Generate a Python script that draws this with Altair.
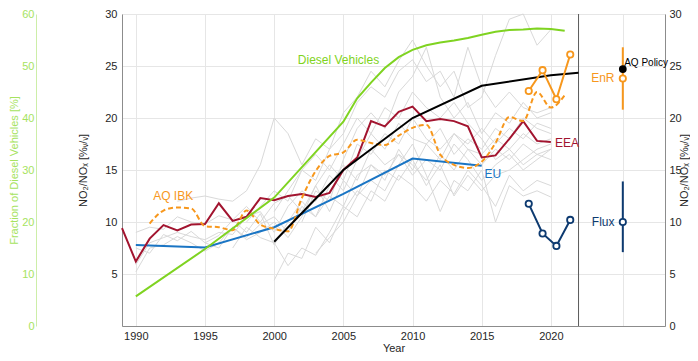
import altair as alt
import pandas as pd

# ---------------- data ----------------
eea_years = list(range(1989, 2021))
eea_vals = [9.4, 6.2, 8.4, 9.7, 9.2, 9.75, 9.8, 11.8, 10.1, 10.5, 12.3, 12.1, 12.5, 12.7,
            12.4, 12.8, 15.0, 16.2, 19.7, 19.2, 20.6, 21.1, 19.7, 19.9, 19.7, 19.2, 16.2,
            16.4, 18.0, 19.7, 17.8, 17.7]

ibk_years = list(range(1991, 2022))
ibk_vals = [9.85, 11.1, 11.4, 11.3, 9.6, 9.5, 9.2, 11.1, 9.75, 9.35, 9.1, 12.3, 14.9,
            16.35, 16.7, 17.9, 17.6, 17.4, 18.3, 19.05, 19.35, 16.5, 15.5, 15.2, 15.8,
            17.6, 20.1, 19.7, 22.5, 21.0, 22.2]

eu_years = [1990, 1995, 2000, 2005, 2010, 2015]
eu_vals = [7.8, 7.55, 9.5, 12.7, 16.1, 15.4]

trend_years = [2000, 2005, 2010, 2015, 2020, 2022]
trend_vals = [8.1, 15.0, 20.0, 23.1, 24.1, 24.35]

diesel_years = [1990, 1995, 2000, 2005, 2006, 2007, 2008, 2009, 2010, 2011, 2012, 2013,
                2014, 2015, 2016, 2017, 2018, 2019, 2020, 2021]
diesel_pct = [5.7, 14.8, 24.7, 39.3, 43.8, 46.8, 49.6, 51.7, 53.1, 54.0, 54.5, 54.9,
              55.4, 56.0, 56.6, 56.9, 57.0, 57.2, 57.1, 56.8]

campaign_years = [2018.4, 2019.4, 2020.4, 2021.4]
enr_vals = [22.6, 24.6, 21.8, 26.1]
flux_vals = [11.75, 8.9, 7.7, 10.2]

panel_names = ["EnR", "Flux"]
panel_mid = [23.8, 10.0]
panel_lo = [20.8, 7.1]
panel_hi = [26.8, 13.9]
aq_policy_val = [24.7]

grey_starts = [1990, 1990, 1993, 2000, 2003, 2000, 2002, 1995, 1990, 1997, 1998, 1990]
grey_vals = [
    [5.9, 8.0, 8.5, 9.0, 8.6, 8.3, 9.0, 8.8, 10.5, 11.0, 9.0, 11.5, 13.0, 12.0, 14.5, 13.0,
     16.0, 18.5, 17.0, 19.5, 18.0, 17.5, 19.0, 16.5, 18.0, 17.0, 19.0, 18.0, 20.0, 19.0, 18.5],
    [7.5, 7.0, 8.8, 8.2, 9.1, 8.0, 8.7, 10.2, 9.0, 10.8, 7.8, 10.0, 12.0, 10.5, 13.5, 15.5,
     14.0, 17.0, 15.5, 16.5, 14.5, 16.0, 15.0, 17.5, 16.0, 14.0, 15.5, 16.5, 15.0, 16.0, 17.0],
    [12.0, 12.3, 12.5, 12.2, 12.0, 13.0, 15.5, 20.0, 18.5, 15.5, 18.0, 17.0, 20.5, 22.0,
     24.5, 23.0, 25.5, 27.5, 25.0, 23.0, 24.5, 21.0, 22.0, 26.0, 29.5, 30.0, 27.0, 28.5],
    [4.4, 7.0, 6.5, 9.5, 8.0, 11.0, 13.0, 12.0, 15.0, 14.0, 16.0, 13.5, 15.5, 12.5, 14.5,
     13.0, 14.5, 15.0, 16.0, 17.0, 17.5],
    [7.0, 8.5, 10.0, 12.5, 14.0, 13.0, 15.5, 17.5, 14.5, 11.0, 14.0, 13.0, 15.0, 10.0, 13.5,
     12.5, 13.0, 12.4],
    [11.0, 13.0, 15.0, 14.0, 17.0, 18.5, 21.5, 23.0, 22.0, 24.5, 25.6, 23.5, 24.5, 22.0,
     26.8, 23.0, 21.0, 22.5, 21.0, 20.5, 21.0],
    [10.0, 13.0, 12.0, 16.0, 19.0, 20.5, 19.0, 22.5, 24.0, 26.8, 22.0, 20.0, 21.5, 18.5,
     20.5, 19.5, 21.5, 20.0, 20.5],
    [8.0, 7.5, 9.5, 8.5, 9.8, 10.5, 9.0, 11.5, 10.5, 12.5, 11.5, 14.5, 15.5, 14.0, 17.0,
     15.0, 17.5, 16.0, 18.5, 17.0, 16.5, 18.0, 17.0, 18.5, 17.5, 18.0],
    [9.0, 9.5, 9.3, 10.5, 10.0, 9.8, 10.6, 10.2, 11.5, 10.0, 11.8, 12.5, 11.0, 13.5, 15.5,
     14.0, 17.5, 16.5, 18.5, 17.5, 20.0, 18.0, 17.0, 18.5, 17.5, 19.0, 17.5, 19.0, 18.0,
     19.5, 19.0],
    [7.5, 9.5, 8.5, 8.0, 5.8, 7.5, 6.8, 9.0, 11.5, 10.5, 13.0, 12.0, 14.5, 13.5, 12.0, 14.0,
     12.7, 15.0, 13.5, 11.5, 14.5, 13.0, 14.0, 13.5],
    [10.0, 11.5, 13.0, 12.0, 15.0, 16.5, 15.0, 17.5, 20.0, 18.5, 21.0, 20.0, 22.5, 21.0,
     20.0, 21.5, 19.5, 18.0, 16.0, 17.0, 15.5, 16.5, 16.0],
    [5.2, 7.5, 7.8, 8.6, 8.0, 7.2, 8.0, 9.5, 8.3, 9.0, 10.0, 8.5, 10.5, 13.5, 11.0, 14.0,
     12.5, 15.5, 14.5, 16.5, 15.5, 14.0, 16.5, 15.0, 17.0, 15.5, 17.0, 16.0, 17.5, 16.5, 17.0],
]

x_tick_years = [1990, 1995, 2000, 2005, 2010, 2015, 2020]

# annotation texts
label_texts = ["Diesel Vehicles", "AQ IBK", "EEA", "EU", "EnR", "AQ Policy", "Flux"]

# ---------------- styling ----------------
FONT = "Liberation Sans"
GREEN = "#7fd321"
GREEN_AX = "#a6e35e"
CRIMSON = "#a2142f"
BLUE = "#1a75c4"
ORANGE = "#f7971c"
NAVY = "#0d3a70"
GRID = "#e6e6e6"
TXT = "#262626"

PANEL_X = 2025.2
X_DOMAIN = [1989, 2028.25]

grey_rows = []
for i, (s, vals) in enumerate(zip(grey_starts, grey_vals)):
    for k, v in enumerate(vals):
        grey_rows.append({"station": f"s{i}", "year": s + k, "v": v})
grey_df = pd.DataFrame(grey_rows)

eea_df = pd.DataFrame({"year": eea_years, "v": eea_vals})
ibk_df = pd.DataFrame({"year": ibk_years, "v": ibk_vals})
eu_df = pd.DataFrame({"year": eu_years, "v": eu_vals})
trend_df = pd.DataFrame({"year": trend_years, "v": trend_vals})
diesel_df = pd.DataFrame({"year": diesel_years, "pct": diesel_pct})
enr_df = pd.DataFrame({"year": campaign_years, "v": enr_vals})
flux_df = pd.DataFrame({"year": campaign_years, "v": flux_vals})
panel_df = pd.DataFrame({"name": panel_names, "v": panel_mid, "lo": panel_lo, "hi": panel_hi,
                         "year": [PANEL_X] * len(panel_names)})
policy_df = pd.DataFrame({"year": [PANEL_X], "v": aq_policy_val})
sep_df = pd.DataFrame({"year": [2022]})

x_axis = alt.Axis(values=x_tick_years + [PANEL_X], format="d",
                  labelExpr="datum.value > 2022 ? '' : datum.label",
                  title="Year", grid=True, gridColor=GRID, domainColor="#8c8c8c",
                  ticks=False, labelColor=TXT, titleColor=TXT, labelFontSize=11,
                  titleFontSize=11, titleFontWeight="normal", labelPadding=4,
                  titlePadding=1, labelFont=FONT, titleFont=FONT)


def X(field="year"):
    return alt.X(f"{field}:Q", scale=alt.Scale(domain=X_DOMAIN, nice=False, zero=False),
                 axis=x_axis)


NO2_TITLE = "NO₂/NOₓ [%ᵥ/ᵥ]"
left_axis = alt.Axis(orient="left", values=[5, 10, 15, 20, 25, 30], title=NO2_TITLE,
                     grid=True, gridColor=GRID, domainColor="#8c8c8c", ticks=False,
                     labelColor=TXT, titleColor=TXT, labelFontSize=11, titleFontSize=11,
                     titleFontWeight="normal", labelPadding=5, titlePadding=16,
                     labelFont=FONT, titleFont=FONT)


def YA(field="v"):
    return alt.Y(f"{field}:Q", scale=alt.Scale(domain=[0, 30], nice=False), axis=left_axis)


grey = alt.Chart(grey_df).mark_line(color="#d9d9d9", strokeWidth=1).encode(
    x=X(), y=YA(), detail="station:N")
sep = alt.Chart(sep_df).mark_rule(color="#5a5a5a", strokeWidth=1).encode(x=X())
eu = alt.Chart(eu_df).mark_line(color=BLUE, strokeWidth=2).encode(x=X(), y=YA())
eea = alt.Chart(eea_df).mark_line(color=CRIMSON, strokeWidth=2).encode(x=X(), y=YA())
ibk = alt.Chart(ibk_df).mark_line(color=ORANGE, strokeWidth=2, strokeDash=[5, 3],
                                  interpolate="monotone").encode(x=X(), y=YA())
trend = alt.Chart(trend_df).mark_line(color="black", strokeWidth=2).encode(x=X(), y=YA())
enr = alt.Chart(enr_df).mark_line(
    color=ORANGE, strokeWidth=2,
    point=alt.OverlayMarkDef(filled=False, fill="white", color=ORANGE, size=40, strokeWidth=1.8)
).encode(x=X(), y=YA())
flux = alt.Chart(flux_df).mark_line(
    color=NAVY, strokeWidth=2,
    point=alt.OverlayMarkDef(filled=False, fill="white", color=NAVY, size=40, strokeWidth=1.8)
).encode(x=X(), y=YA())

label_pos = [(2004.65, 25.6), (1992.7, 12.5), (2020.3, 17.6), (2015.2, 14.6),
             (2024.6, 23.8), (2025.3, 25.3), (2024.6, 10.0)]
label_cols = [GREEN, ORANGE, CRIMSON, BLUE, ORANGE, "black", NAVY]
label_align = ["center", "center", "left", "left", "right", "left", "right"]
label_size = [12, 12, 12, 12, 12, 10, 12]

texts = []
for t, (lx, ly), c, a, s in zip(label_texts, label_pos, label_cols, label_align, label_size):
    tdf = pd.DataFrame({"year": [lx], "v": [ly], "t": [t]})
    texts.append(alt.Chart(tdf).mark_text(color=c, align=a, baseline="middle", fontSize=s,
                                          font=FONT).encode(x=X(), y=YA(), text="t:N"))

layer_a = alt.layer(grey, sep, eu, eea, ibk, trend, enr, flux, *texts)

diesel = alt.Chart(diesel_df).mark_line(color=GREEN, strokeWidth=2).encode(
    x=X(),
    y=alt.Y("pct:Q", scale=alt.Scale(domain=[0, 60], nice=False),
            axis=alt.Axis(orient="left", offset=86, values=list(range(0, 61, 10)),
                          title="Fraction of Diesel Vehicles [%]", grid=False,
                          labelColor=GREEN_AX, titleColor=GREEN_AX, domainColor="#cdeea8",
                          ticks=False, labelFontSize=11, titleFontSize=11,
                          titleFontWeight="normal", labelPadding=2, titlePadding=2,
                          labelFont=FONT, titleFont=FONT)))

right_axis = alt.Axis(orient="right", values=[0, 5, 10, 15, 20, 25, 30], title=NO2_TITLE,
                      grid=False, domainColor="#8c8c8c", ticks=False, labelColor=TXT,
                      titleColor=TXT, labelFontSize=11, titleFontSize=11,
                      titleFontWeight="normal", labelPadding=4, titlePadding=8,
                      titleAngle=270, labelFont=FONT, titleFont=FONT)


def YC(field):
    return alt.Y(f"{field}:Q", scale=alt.Scale(domain=[0, 30], nice=False), axis=right_axis)


bars = alt.Chart(panel_df).mark_rule(strokeWidth=2).encode(
    x=X(), y=YC("lo"), y2="hi:Q",
    color=alt.Color("name:N", scale=alt.Scale(domain=panel_names, range=[ORANGE, NAVY]),
                    legend=None))
pts = alt.Chart(panel_df).mark_point(filled=False, fill="white", size=40, strokeWidth=1.8,
                                     opacity=1).encode(
    x=X(), y=YC("v"),
    color=alt.Color("name:N", scale=alt.Scale(domain=panel_names, range=[ORANGE, NAVY]),
                    legend=None))
policy = alt.Chart(policy_df).mark_point(filled=True, color="black", size=60, opacity=1).encode(
    x=X(), y=YC("v"))
layer_c = alt.layer(bars, pts, policy)

chart = alt.layer(layer_a, diesel, layer_c).resolve_scale(y="independent").properties(
    width=682, height=345, padding=0,
    autosize=alt.AutoSizeParams(type="fit", contains="padding"),
).configure_view(stroke="#b4b4b4").configure(font=FONT)

chart.save("out.html", embed_options={"renderer": "svg", "actions": False})
